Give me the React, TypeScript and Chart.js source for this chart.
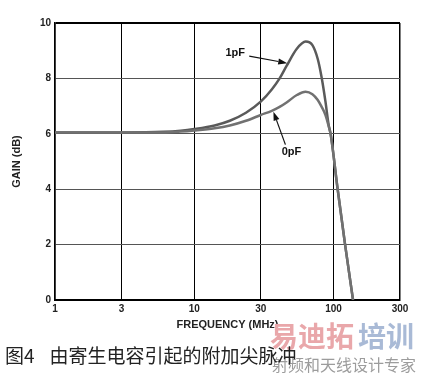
import React, { useEffect, useRef } from "react";
import { Chart, registerables } from "chart.js";

Chart.register(...registerables);

// Frequency (MHz) sample points, shared by both curves
const frequencies = [1, 3, 6, 8, 10, 14, 18, 23.5, 30, 36, 41, 46, 54.5, 63, 70.5, 77, 82, 87.5, 92, 95.5, 107, 121, 138];
// Gain (dB) with 1pF parasitic capacitance
const gain1pF = [6.05, 6.05, 6.07, 6.11, 6.17, 6.3, 6.47, 6.76, 7.16, 7.6, 8.0, 8.45, 9.07, 9.33, 9.2, 8.7, 8.05, 7.16, 6.35, 5.96, 4, 2, 0];
// Gain (dB) with 0pF
const gain0pF = [6.05, 6.05, 6.05, 6.08, 6.12, 6.2, 6.3, 6.47, 6.68, 6.83, 6.97, 7.13, 7.4, 7.52, 7.43, 7.22, 6.98, 6.68, 6.3, 5.96, 4, 2, 0];

const xTicks = [1, 3, 10, 30, 100, 300];
const yTicks = [0, 2, 4, 6, 8, 10];

const seriesLabels = ["1pF", "0pF"];
// where each callout arrow points (frequency, gain)
const calloutFreq = [46.5, 37];
const calloutGain = [8.55, 6.8];

const calloutStyle = [
  { labelDx: -52, labelDy: -10, tailDx: -38, tailDy: -7 },
  { labelDx: 18, labelDy: 40, tailDx: 12, tailDy: 33 },
];

const tickFont = { family: "'Liberation Sans', Arial, sans-serif", size: 10, weight: "bold" as const };
const titleFont = { family: "'Liberation Sans', Arial, sans-serif", size: 11, weight: "bold" as const };

const calloutPlugin = {
  id: "callouts",
  afterDatasetsDraw(chart: any) {
    const { ctx } = chart;
    const xs = chart.scales.x;
    const ys = chart.scales.y;
    ctx.save();
    seriesLabels.forEach((label, i) => {
      const tx = xs.getPixelForValue(calloutFreq[i]);
      const ty = ys.getPixelForValue(calloutGain[i]);
      const st = calloutStyle[i];
      const sx = tx + st.tailDx;
      const sy = ty + st.tailDy;
      ctx.strokeStyle = "#111";
      ctx.fillStyle = "#111";
      ctx.lineWidth = 1.2;
      const ang = Math.atan2(ty - sy, tx - sx);
      const headLen = 9;
      const headW = 3;
      const bx = tx - headLen * Math.cos(ang);
      const by = ty - headLen * Math.sin(ang);
      ctx.beginPath();
      ctx.moveTo(sx, sy);
      ctx.lineTo(bx, by);
      ctx.stroke();
      ctx.beginPath();
      ctx.moveTo(tx, ty);
      ctx.lineTo(bx + headW * Math.sin(ang), by - headW * Math.cos(ang));
      ctx.lineTo(bx - headW * Math.sin(ang), by + headW * Math.cos(ang));
      ctx.closePath();
      ctx.fill();
      ctx.font = "bold 11px 'Liberation Sans', Arial, sans-serif";
      ctx.textAlign = "center";
      ctx.textBaseline = "middle";
      ctx.fillText(label, tx + st.labelDx, ty + st.labelDy);
    });
    ctx.restore();
  },
};

function GainChart() {
  const ref = useRef<HTMLCanvasElement | null>(null);
  useEffect(() => {
    if (!ref.current) return;
    const chart = new Chart(ref.current, {
      type: "line",
      data: {
        datasets: [
          {
            label: seriesLabels[1],
            data: frequencies.map((f, i) => ({ x: f, y: gain0pF[i] })),
            borderColor: "#717171",
            borderWidth: 2.5,
            pointRadius: 0,
            cubicInterpolationMode: "monotone",
            fill: false,
          },
          {
            label: seriesLabels[0],
            data: frequencies.map((f, i) => ({ x: f, y: gain1pF[i] })),
            borderColor: "#5a5a5a",
            borderWidth: 2.5,
            pointRadius: 0,
            cubicInterpolationMode: "monotone",
            fill: false,
          },
        ],
      },
      options: {
        responsive: false,
        animation: false,
        devicePixelRatio: 1,
        layout: { padding: { top: 23, right: 22, left: 0, bottom: 0 } },
        plugins: { legend: { display: false }, tooltip: { enabled: false } },
        scales: {
          x: {
            type: "logarithmic",
            min: 1,
            max: 300,
            afterBuildTicks: (s: any) => {
              s.ticks = xTicks.map((v) => ({ value: v }));
            },
            afterFit: (s: any) => {
              s.height = 35;
            },
            ticks: {
              callback: (v: any) => String(v),
              font: tickFont,
              color: "#222",
              padding: 3,
              maxRotation: 0,
              autoSkip: false,
            },
            grid: {
              color: "#000",
              lineWidth: (c: any) => (c.tick && (c.tick.value === 1 || c.tick.value === 300) ? 1.5 : 1),
              drawTicks: false,
            },
            border: { display: true, color: "#000", width: 2 },
            title: {
              display: true,
              text: "FREQUENCY (MHz)",
              font: titleFont,
              color: "#222",
              padding: { top: 0, bottom: 3 },
            },
          },
          y: {
            type: "linear",
            min: 0,
            max: 10,
            afterBuildTicks: (s: any) => {
              s.ticks = yTicks.map((v) => ({ value: v }));
            },
            afterFit: (s: any) => {
              s.width = 55;
            },
            ticks: {
              font: tickFont,
              color: "#222",
              padding: 4,
            },
            grid: {
              color: (c: any) => (c.tick && (c.tick.value === 10 || c.tick.value === 0) ? "#000" : "#555"),
              lineWidth: (c: any) => (c.tick && (c.tick.value === 10 || c.tick.value === 0) ? 2 : 1),
              drawTicks: false,
            },
            border: { display: true, color: "#000", width: 1.5 },
            title: {
              display: true,
              text: "GAIN (dB)",
              font: titleFont,
              color: "#222",
              padding: { top: 10, bottom: 0 },
            },
          },
        },
      } as any,
      plugins: [calloutPlugin],
    });
    return () => chart.destroy();
  }, []);
  return <canvas ref={ref} width={422} height={335} style={{ position: "absolute", left: 0, top: 0 }} />;
}

export default function App() {
  return (
    <div
      style={{
        position: "absolute",
        left: 0,
        top: 0,
        width: 422,
        height: 373,
        background: "#fff",
        overflow: "hidden",
      }}
    >
      <GainChart />
      {/* watermark */}
      <div
        style={{
          position: "absolute",
          left: 270,
          top: 321,
          fontFamily: "'Noto Sans CJK SC', sans-serif",
          fontWeight: "bold",
          fontSize: 28,
          lineHeight: "28px",
          whiteSpace: "nowrap",
        }}
      >
        <span style={{ color: "#e9a7aa" }}>易迪拓</span>
        <span style={{ color: "#a9bad6", marginLeft: 4 }}>培训</span>
      </div>
      <div
        style={{
          position: "absolute",
          left: 272,
          top: 356,
          fontFamily: "'Noto Sans CJK SC', sans-serif",
          fontSize: 16,
          lineHeight: "16px",
          color: "#9c9c9c",
          whiteSpace: "nowrap",
        }}
      >
        射频和天线设计专家
      </div>
      {/* caption */}
      <div
        style={{
          position: "absolute",
          left: 5,
          top: 345,
          fontFamily: "'Noto Sans CJK SC', sans-serif",
          fontSize: 19,
          lineHeight: "20px",
          color: "#222",
          whiteSpace: "nowrap",
        }}
      >
        <span style={{ marginRight: 15 }}>图4</span>
        <span>由寄生电容引起的附加尖脉冲</span>
      </div>
    </div>
  );
}
